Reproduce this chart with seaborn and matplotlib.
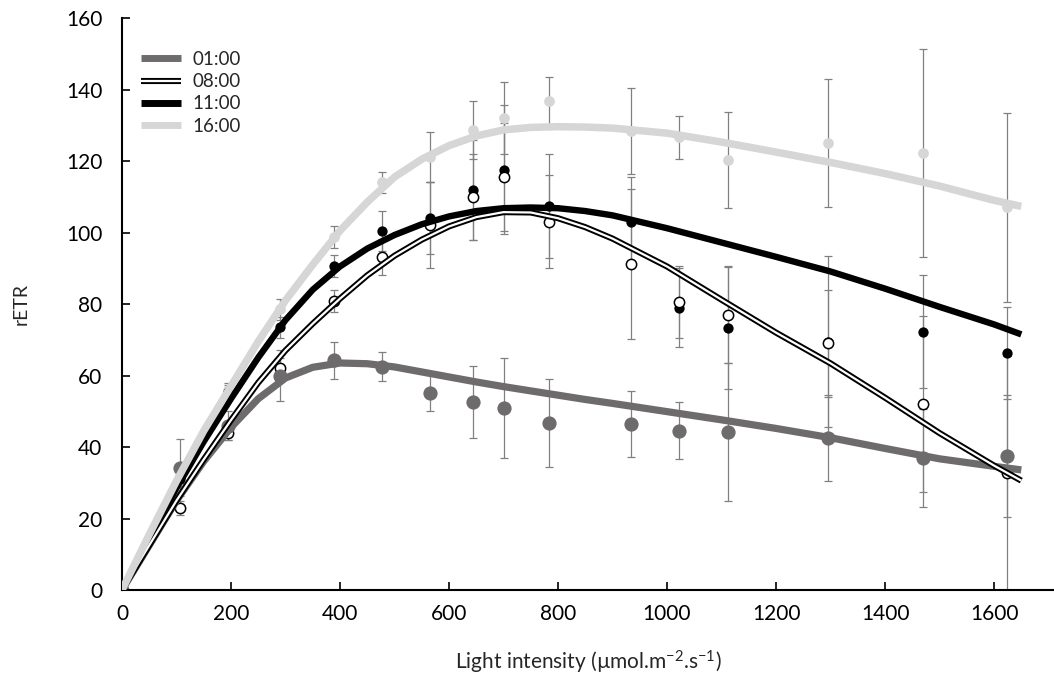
import numpy as np
import pandas as pd
import matplotlib
matplotlib.use("Agg")
import matplotlib.pyplot as plt
import seaborn as sns
from matplotlib.lines import Line2D
from matplotlib.legend_handler import HandlerTuple

# ---------------- data ----------------
light = [0, 106, 195, 290, 389, 477, 565, 644, 701, 784, 934, 1022, 1112, 1295, 1470, 1624]

r01 = [0, 34.2, 46, 60, 64.2, 62.5, 55.2, 52.6, 50.9, 46.8, 46.5, 44.6, 44.3, 42.5, 37.0, 37.5]
e01 = [0, 8, 4, 7, 5.3, 4, 5, 10, 14, 12.3, 9.3, 8, 19.3, 12, 13.7, 17]

r08 = [0, 23, 44, 62, 80.8, 93.2, 102, 110, 115.5, 103, 91.3, 80.5, 77, 69, 52, 32.7]
e08 = [0, 2, 2, 3, 3, 5, 12, 12, 15, 13, 21, 10, 13.5, 15, 24.6, 32.7]

r11 = [0, 31, 55.3, 73.5, 90.6, 100.4, 104, 111.9, 117.6, 107.4, 103, 79, 73.3, 69.5, 72.3, 66.3]
e11 = [0, 2, 2, 3, 3, 5.6, 10, 14, 18, 14.6, 12.5, 11, 17, 24, 15.7, 13]

r16 = [0, 32, 56, 78.5, 98.7, 114, 121, 128.7, 132, 136.8, 128.5, 126.7, 120.3, 125, 122.2, 107]
e16 = [0, 2, 2, 3, 3, 3, 7, 8, 10, 6.7, 12, 6, 13.5, 18, 29, 26.5]

# fitted curves
fit_x = [0, 50, 100, 150, 200, 250, 300, 350, 400, 450, 500, 550, 600, 650, 700,
         750, 800, 850, 900, 1000, 1100, 1200, 1300, 1400, 1500, 1600, 1650]
fit01 = [0, 12.5, 25, 36, 45.5, 53.5, 59.3, 62.3, 63.5, 63.3, 62.4, 61, 59.6, 58.2, 56.9,
         55.7, 54.5, 53.3, 52.2, 49.9, 47.6, 45.2, 42.6, 39.6, 36.7, 34.6, 33.6]
fit08 = [0, 12.5, 25, 36.5, 47.5, 58, 67, 74.5, 81.5, 88, 93.5, 98, 101.7, 104.3, 105.7,
         105.6, 104, 101.5, 98.3, 90.5, 81.2, 72, 63.4, 53.8, 43.9, 34.8, 30.6]
fit11 = [0, 14.5, 28.5, 41.5, 53.5, 65, 75.5, 84, 90.5, 95.5, 99.3, 102.3, 104.5, 106, 106.8,
         107, 106.8, 106, 104.8, 101.2, 97.2, 93.2, 89.1, 84.3, 79.2, 74.3, 71.5]
fit16 = [0, 15.5, 30.5, 44.5, 57, 69.5, 81, 91, 100.5, 108.5, 115.5, 120.5, 124.3, 127, 128.7,
         129.4, 129.6, 129.5, 129.2, 127.8, 125.3, 122.5, 119.6, 116.5, 113, 109, 107.3]

labels = ["01:00", "08:00", "11:00", "16:00"]

# ---------------- style ----------------
sns.set_theme(style="ticks")
plt.rcParams["font.family"] = ["Lato", "DejaVu Sans"]
plt.rcParams["mathtext.default"] = "regular"
FS = 15

C01 = "#6e6b6c"
C16 = "#d6d6d6"
CERR = "#808080"

fig = plt.figure(figsize=(10.54, 6.90), dpi=100)
ax = fig.add_axes([0.1157, 0.1449, 0.8843, 0.8290])

# error bars
for y, e in [(r16, e16), (r11, e11), (r08, e08), (r01, e01)]:
    ax.errorbar(light, y, yerr=e, fmt="none", ecolor=CERR, elinewidth=0.9,
                capsize=3, capthick=0.9, zorder=1)

pts = pd.DataFrame({"light": light, "r01": r01, "r08": r08, "r11": r11, "r16": r16})
fit = pd.DataFrame({"x": fit_x, "f01": fit01, "f08": fit08, "f11": fit11, "f16": fit16})

# markers
sns.scatterplot(data=pts, x="light", y="r16", color=C16, s=60, edgecolor=C16, linewidth=0, ax=ax, zorder=2)
sns.scatterplot(data=pts, x="light", y="r11", color="black", s=55, edgecolor="black", linewidth=0, ax=ax, zorder=2)
sns.scatterplot(data=pts, x="light", y="r08", color="white", s=55, edgecolor="black", linewidth=1.1, ax=ax, zorder=2.1)
sns.scatterplot(data=pts, x="light", y="r01", color=C01, s=105, edgecolor=C01, linewidth=0, ax=ax, zorder=2.2)

# fitted lines
sns.lineplot(data=fit, x="x", y="f01", color=C01, linewidth=5.2, ax=ax, zorder=3)
sns.lineplot(data=fit, x="x", y="f11", color="black", linewidth=4.6, ax=ax, zorder=3.1)
sns.lineplot(data=fit, x="x", y="f08", color="black", linewidth=4.4, ax=ax, zorder=3.2)
sns.lineplot(data=fit, x="x", y="f08", color="white", linewidth=1.6, ax=ax, zorder=3.3)
sns.lineplot(data=fit, x="x", y="f16", color=C16, linewidth=5.4, ax=ax, zorder=3.4)
for ln in ax.lines:
    ln.set_solid_capstyle("butt")
    ln.set_solid_joinstyle("round")

# axes
ax.set_xlim(0, 1710)
ax.set_ylim(0, 160)
ax.set_xticks(range(0, 1601, 200))
ax.set_yticks(range(0, 161, 20))
ax.tick_params(direction="in", length=6, width=1.2, labelsize=FS, colors="black", pad=10)
ax.tick_params(axis="y", pad=14)
for s in ["top", "right"]:
    ax.spines[s].set_visible(False)
for s in ["left", "bottom"]:
    ax.spines[s].set_linewidth(1.5)
    ax.spines[s].set_color("black")
ax.set_xlabel("Light intensity (µmol.m$^{-2}$.s$^{-1}$)", fontsize=FS, labelpad=18)
ax.set_ylabel("rETR", fontsize=FS - 1, labelpad=26)

# legend
LW = 5.0
h01 = Line2D([], [], color=C01, lw=LW, solid_capstyle="butt")
h08a = Line2D([], [], color="black", lw=4.4, solid_capstyle="butt")
h08b = Line2D([], [], color="white", lw=1.6, solid_capstyle="butt")
h11 = Line2D([], [], color="black", lw=LW, solid_capstyle="butt")
h16 = Line2D([], [], color=C16, lw=LW, solid_capstyle="butt")
ax.legend([h01, (h08a, h08b), h11, h16], labels,
          handler_map={tuple: HandlerTuple(ndivide=1, pad=0)},
          loc="upper left", bbox_to_anchor=(0.002, 0.972), frameon=False,
          fontsize=FS - 1.5, handlelength=2.15, handletextpad=0.6, labelspacing=0.28)

fig.savefig("out.png", dpi=100)
